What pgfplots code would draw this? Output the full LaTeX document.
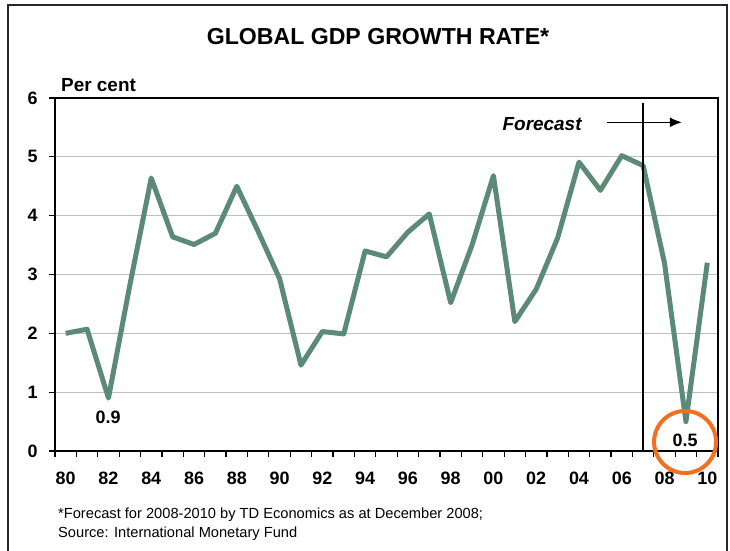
\documentclass[border=0pt]{standalone}
\usepackage{pgfplots}
\pgfplotsset{compat=1.18}
\usetikzlibrary{arrows.meta}
\usepackage{fontspec}
\setmainfont{Liberation Sans}
\definecolor{linegreen}{RGB}{91,138,119}
\definecolor{circorange}{RGB}{243,112,33}
\definecolor{framegray}{RGB}{40,40,40}
\begin{document}
\begin{tikzpicture}[x=1bp,y=1bp]
\useasboundingbox (0,0) rectangle (730,551);
\fill[white] (0,0) rectangle (730,551);
\draw[framegray, line width=2bp] (8,-10) -- (8,546) -- (727,546) -- (727,-10);
\node[anchor=base, font=\bfseries\fontsize{23.2}{24}\selectfont] at (378,506.5) {GLOBAL GDP GROWTH RATE*};
\node[anchor=base west, inner sep=0pt, font=\bfseries\fontsize{19}{20}\selectfont] at (61,459) {Per cent};
\node[anchor=base west, inner sep=0pt, font=\fontsize{14.7}{16}\selectfont] at (58,32) {*Forecast for 2008-2010 by TD Economics as at December 2008;};
\node[anchor=base west, inner sep=0pt, font=\fontsize{14.7}{16}\selectfont] at (58,13) {Source: International Monetary Fund};
\begin{axis}[
  scale only axis, width=663bp, height=353bp,
  at={(55bp,100bp)}, anchor=south west,
  xmin=1979.5, xmax=2010.5, ymin=0, ymax=6,
  xtick={1980,1982,...,2010},
  xticklabels={80,82,84,86,88,90,92,94,96,98,00,02,04,06,08,10},
  minor xtick={1979.5,1980.5,...,2010.5},
  ytick={0,1,...,6},
  major x tick style={draw=none},
  tick align=outside,
  major tick length=6bp, minor tick length=6bp,
  every tick/.style={black, line width=1.2bp},
  xtick pos=bottom, ytick pos=left,
  ymajorgrids,
  grid style={draw=black!25, line width=0.9bp},
  axis line style={black, line width=1.3bp},
  /pgf/number format/assume math mode=true,
  tick label style={font=\bfseries\fontsize{18}{18}\selectfont},
  xticklabel style={anchor=base, yshift=-28bp},
  yticklabel style={anchor=east, xshift=-8bp},
  clip=false,
]
\draw[black, line width=2.6bp] (rel axis cs:0,1) -- (rel axis cs:0,0) -- (rel axis cs:1,0);
\addplot[linegreen, line width=5bp, line join=round, mark=none] coordinates {
(1980,2.00) (1981,2.07) (1982,0.90) (1983,2.82) (1984,4.64) (1985,3.64)
(1986,3.51) (1987,3.70) (1988,4.50) (1989,3.73) (1990,2.93) (1991,1.46)
(1992,2.03) (1993,1.99) (1994,3.40) (1995,3.30) (1996,3.72) (1997,4.03)
(1998,2.52) (1999,3.50) (2000,4.68) (2001,2.20) (2002,2.75) (2003,3.62)
(2004,4.91) (2005,4.43) (2006,5.02) (2007,4.85) (2008,3.19) (2009,0.50)
(2010,3.20)
};
\draw[black, line width=1.5bp] (axis cs:2007,0) -- (axis cs:2007,5.91);
\draw[black, line width=1.5bp, -{Latex[length=12bp,width=10bp]}] (axis cs:2005.31,5.587) -- (axis cs:2008.81,5.587);
\node[anchor=base east, inner sep=0pt, font=\bfseries\itshape\fontsize{19}{20}\selectfont] at (axis cs:2004.13,5.44) {Forecast};
\node[anchor=base, inner sep=0pt, font=\bfseries\fontsize{18}{18}\selectfont] at (axis cs:1981.98,0.47) {0.9};
\node[anchor=base, inner sep=0pt, font=\bfseries\fontsize{18}{18}\selectfont] at (axis cs:2008.96,0.068) {0.5};
\draw[circorange, line width=4bp] (axis cs:2008.96,0.153) circle[radius=31bp];
\end{axis}
\end{tikzpicture}
\end{document}
